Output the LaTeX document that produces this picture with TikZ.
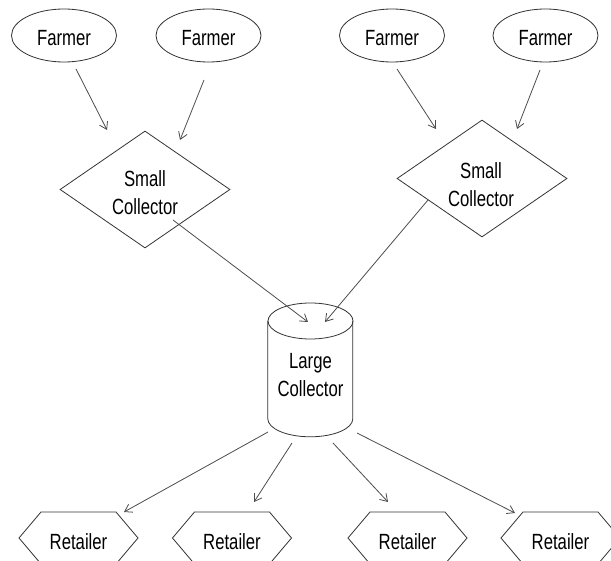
\documentclass[tikz,border=0pt]{standalone}
\usepackage{fontspec}
\setmainfont{Liberation Sans}
\usetikzlibrary{shapes.geometric,arrows.meta}
\newcommand\hsq[1]{\scalebox{0.76}[1]{#1}}
\newcommand\twol[2]{\hsq{\begin{tabular}{@{}c@{}}#1\\#2\end{tabular}}}
\tikzset{
  shp/.style={draw=black!80, line width=0.8pt},
  txt/.style={font=\fontsize{22}{28}\selectfont, inner sep=0pt, text=black},
  farmer/.style={shp, ellipse, minimum width=105pt, minimum height=53pt, inner sep=0pt},
  dia/.style={shp, diamond, minimum width=170pt, minimum height=117pt, inner sep=0pt},
  arr/.style={draw=black!70, line width=0.8pt, -{Straight Barb[length=7pt,width=9pt]}}
}
\begin{document}
\begin{tikzpicture}[x=1pt,y=-1pt]
\useasboundingbox (0,0) rectangle (611,561);
\clip (0,0) rectangle (611,561);
% Farmers
\node[farmer] (f1) at (64,35.5) {};
\node[farmer] (f2) at (208.5,35.5) {};
\node[farmer] (f3) at (392,35.5) {};
\node[farmer] (f4) at (545.5,35.5) {};
\node[txt] (f1t) at (64,38) {\hsq{Farmer}};
\node[txt] (f2t) at (208.5,38) {\hsq{Farmer}};
\node[txt] (f3t) at (392,38) {\hsq{Farmer}};
\node[txt] (f4t) at (545.5,38) {\hsq{Farmer}};
% Small collectors
\node[dia] (d1) at (145,189.5) {};
\node[dia] (d2) at (482,178.5) {};
\node[txt] (d1t) at (145,195.3) {\twol{Small}{Collector}};
\node[txt] (d2t) at (481,187.2) {\twol{Small}{Collector}};
% Large collector (cylinder)
\node[minimum width=85pt, minimum height=134pt, inner sep=0pt] (lc) at (310.5,370) {};
\draw[shp] (lc.north west) ++(0,18) -- ++(0,98)
  arc[start angle=180, end angle=0, x radius=42.5, y radius=18] -- ++(0,-98);
\draw[shp] (310.5,321) ellipse[x radius=42.5, y radius=18];
\node[txt] (lct) at (310.5,376.5) {\twol{Large}{Collector}};
% Retailers
\foreach \n/\cx in {r1/78.5, r2/232, r3/407.5, r4/560.5}{
  \node[txt] (\n) at (\cx,541.5) {\hsq{Retailer}};
  \draw[shp] (\cx-59.5,538) -- (\cx-37.5,512) -- (\cx+37.5,512) -- (\cx+59.5,538)
    -- (\cx+37.5,564) -- (\cx-37.5,564) -- cycle;
}
% connector end points
\coordinate (s1) at (76,69);    \coordinate (e1) at (107,130);
\coordinate (s2) at (204,80);   \coordinate (e2) at (180,140);
\coordinate (s3) at (397,69);   \coordinate (e3) at (436,129);
\coordinate (s4) at (540,70);   \coordinate (e4) at (517,129);
\coordinate (s5) at (173,220);  \coordinate (e5) at (308,322);
\coordinate (s6) at (428,200);  \coordinate (e6) at (325,322);
\coordinate (s7) at (268,432);  \coordinate (e7) at (124,512);
\coordinate (s8) at (292,443);  \coordinate (e8) at (254,502);
\coordinate (s9) at (333,443);  \coordinate (e9) at (388,502);
\coordinate (s10) at (357,433); \coordinate (e10) at (515,513);
\foreach \i in {1,...,10}{\draw[arr] (s\i) -- (e\i);}
\end{tikzpicture}
\end{document}
